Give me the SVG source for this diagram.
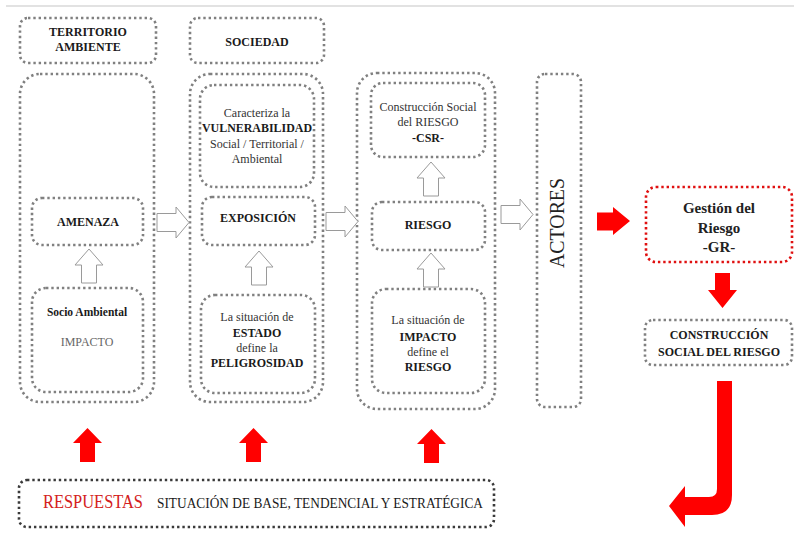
<svg xmlns="http://www.w3.org/2000/svg" width="794" height="535" viewBox="0 0 794 535">
<style>
.dot{fill:none;stroke:#808080;stroke-width:2.6;stroke-dasharray:2.4 2.9;}
.dotd{fill:none;stroke:#3a3a3a;stroke-width:2.6;stroke-dasharray:2.4 2.9;}
.dotr{fill:none;stroke:#e01010;stroke-width:2.6;stroke-dasharray:2.4 2.9;}
.hol{fill:#fff;stroke:#9a9a9a;stroke-width:1;}
.red{fill:#ff0000;stroke:none;}
text{font-family:"Liberation Serif","DejaVu Serif",serif;text-anchor:middle;}
.b{font-weight:bold;font-size:12px;fill:#1a1a1a;}
.r{font-size:12px;fill:#333;}
</style>
<defs>
<path id="hup" d="M14 0 L28 16 L21.5 16 L21.5 34 L6.5 34 L6.5 16 L0 16 Z"/>
<path id="hright" d="M32 15.5 L19 0 L19 6.5 L0 6.5 L0 24.5 L19 24.5 L19 31 Z"/>
<path id="rup" d="M14.5 0 L29 15 L22 15 L22 34 L7 34 L7 15 L0 15 Z"/>
</defs>
<line x1="6" y1="6" x2="794" y2="6" stroke="#d8d8d8" stroke-width="1.5"/>

<g id="territorio">
<rect class="dot" x="20" y="18" width="136" height="45" rx="8"/>
<text class="b" x="88" y="36">TERRITORIO</text>
<text class="b" x="88" y="51">AMBIENTE</text>
</g>
<g id="sociedad">
<rect class="dot" x="190" y="18" width="134" height="45" rx="8"/>
<text class="b" x="257" y="46">SOCIEDAD</text>
</g>

<g id="col1">
<rect class="dot" x="20" y="74" width="134" height="328" rx="20"/>
</g>
<g id="amenaza">
<rect class="dot" x="32" y="198" width="111" height="47" rx="10"/>
<text class="b" x="88" y="226">AMENAZA</text>
</g>
<g id="socioambiental">
<rect class="dot" x="32" y="288" width="111" height="104" rx="14"/>
<text class="b" x="87" y="316" font-size="11.5px" style="font-size:11.5px">Socio Ambiental</text>
<text class="r" x="87" y="346" fill="#666" style="fill:#666">IMPACTO</text>
</g>

<g id="col2">
<rect class="dot" x="190" y="74" width="133" height="328" rx="20"/>
</g>
<g id="vulnerabilidad">
<rect class="dot" x="200" y="85" width="114" height="102" rx="14"/>
<text class="r" x="257" y="117">Caracteriza la</text>
<text class="b" x="257" y="132" textLength="110" lengthAdjust="spacingAndGlyphs">VULNERABILIDAD</text>
<text class="r" x="257" y="148">Social / Territorial /</text>
<text class="r" x="257" y="163">Ambiental</text>
</g>
<g id="exposicion">
<rect class="dot" x="202" y="197" width="113" height="48" rx="10"/>
<text class="b" x="258" y="222">EXPOSICIÓN</text>
</g>
<g id="peligrosidad">
<rect class="dot" x="201" y="295" width="114" height="98" rx="14"/>
<text class="r" x="257" y="321">La situación de</text>
<text class="b" x="257" y="337">ESTADO</text>
<text class="r" x="257" y="352">define la</text>
<text class="b" x="257" y="367">PELIGROSIDAD</text>
</g>

<g id="col3">
<rect class="dot" x="357" y="73" width="138" height="336" rx="20"/>
</g>
<g id="csr">
<rect class="dot" x="371" y="83" width="114" height="74" rx="12"/>
<text class="r" x="428" y="111">Construcción Social</text>
<text class="r" x="428" y="126">del RIESGO</text>
<text class="b" x="428" y="142">-CSR-</text>
</g>
<g id="riesgo">
<rect class="dot" x="372" y="202" width="113" height="48" rx="10"/>
<text class="b" x="428" y="229">RIESGO</text>
</g>
<g id="impacto">
<rect class="dot" x="372" y="289" width="113" height="104" rx="14"/>
<text class="r" x="428" y="324">La situación de</text>
<text class="b" x="428" y="341">IMPACTO</text>
<text class="r" x="428" y="356">define el</text>
<text class="b" x="428" y="371">RIESGO</text>
</g>

<g id="actores">
<rect class="dot" x="537" y="74" width="44" height="333" rx="8"/>
<text transform="translate(564,223) rotate(-90)" font-size="20" fill="#222" textLength="90" lengthAdjust="spacingAndGlyphs">ACTORES</text>
</g>

<g id="gestion">
<rect class="dotr" x="646" y="187" width="146" height="75" rx="10"/>
<text x="719" y="213" font-size="15" font-weight="bold" fill="#222">Gestión del</text>
<text x="719" y="233" font-size="15" font-weight="bold" fill="#222">Riesgo</text>
<text x="719" y="252" font-size="15" font-weight="bold" fill="#222">-GR-</text>
</g>

<g id="construccion">
<rect class="dot" x="645" y="320" width="147" height="45" rx="8"/>
<text class="b" x="719" y="339">CONSTRUCCIÓN</text>
<text class="b" x="719" y="356">SOCIAL DEL RIESGO</text>
</g>

<g id="respuestas">
<rect class="dotd" x="19" y="480" width="475" height="47" rx="8"/>
<text x="93" y="508" font-size="18" fill="#d42020" textLength="100" lengthAdjust="spacingAndGlyphs">RESPUESTAS</text>
<text x="320" y="508" font-size="14" fill="#1a1a1a" textLength="326" lengthAdjust="spacingAndGlyphs">SITUACIÓN DE BASE, TENDENCIAL Y ESTRATÉGICA</text>
</g>

<g id="connectors">
<use href="#hup" class="hol" x="75" y="249"/>
<use href="#hup" class="hol" x="245" y="251"/>
<use href="#hup" class="hol" x="417" y="162"/>
<use href="#hup" class="hol" x="417" y="253"/>
<use href="#hright" class="hol" x="157" y="207"/>
<use href="#hright" class="hol" x="326" y="206"/>
<use href="#hright" class="hol" x="501" y="199"/>
<use href="#rup" class="red" x="73" y="428"/>
<use href="#rup" class="red" x="239" y="428"/>
<use href="#rup" class="red" x="417" y="429"/>
<path class="red" d="M630 221 L613 207 L613 212.5 L597 212.5 L597 230.5 L613 230.5 L613 235 Z"/>
<path class="red" d="M722.5 308 L737 290 L730 290 L730 273 L715 273 L715 290 L708 290 Z"/>
<path class="red" d="M717 381 H732 V495 Q732 515 712 515 H685 V527 L669 506 L685 486 V497 H709 Q717 497 717 489 Z"/>
</g>
</svg>
